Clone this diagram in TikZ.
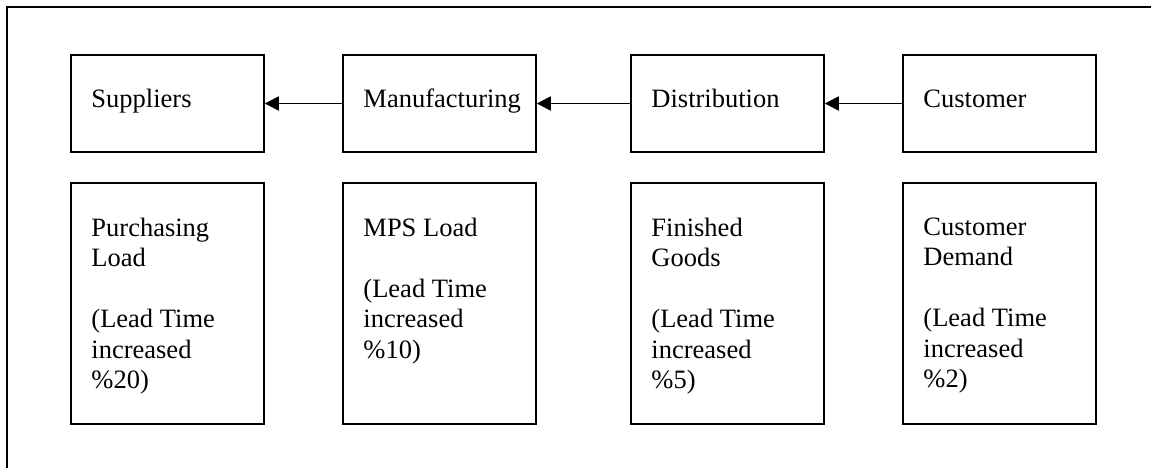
\documentclass[tikz,border=0pt]{standalone}
\usepackage{fontspec}
\setmainfont{Liberation Serif}
\usetikzlibrary{arrows.meta,calc}
\begin{document}
\begin{tikzpicture}[x=1pt,y=-1pt,
  box/.style={draw,line width=1.5pt,minimum width=193pt,inner sep=0pt},
  topbox/.style={box,minimum height=97pt},
  lowbox/.style={box,minimum height=241pt},
  lbl/.style={anchor=base west,inner sep=0pt,font=\fontsize{26.5}{30.5}\selectfont,align=left},
  flow/.style={line width=1.5pt,-{Triangle[length=14pt,width=14pt]}}]
\useasboundingbox (0,0) rectangle (1151,468);
\coordinate (fbl) at (7,468);
\coordinate (ftl) at (7,7);
\coordinate (ftr) at (1151,7);
\draw[line width=1.5pt] (fbl) -- (ftl) -- (ftr);
% top row
\node[topbox] (sup) at (167.5,103.5) {};
\node[topbox] (man) at (439.5,103.5) {};
\node[topbox] (dis) at (727.5,103.5) {};
\node[topbox] (cus) at (999.5,103.5) {};
\node[lbl] (tsup) at ($(sup.west)+(21,4)$) {Suppliers};
\node[lbl] (tman) at ($(man.west)+(21,4)$) {Manufacturing};
\node[lbl] (tdis) at ($(dis.west)+(21,4)$) {Distribution};
\node[lbl] (tcus) at ($(cus.west)+(21,4)$) {Customer};
\draw[flow] (man.west) -- (sup.east);
\draw[flow] (dis.west) -- (man.east);
\draw[flow] (cus.west) -- (dis.east);
% bottom row
\node[lowbox] (pl) at (167.5,303.5) {};
\node[lowbox] (ml) at (439.5,303.5) {};
\node[lowbox] (fg) at (727.5,303.5) {};
\node[lowbox] (cd) at (999.5,303.5) {};
\node[lbl,anchor=north west] (tpl) at ($(pl.north west)+(21,35.5)$) {Purchasing\\Load\\[30.5pt](Lead Time\\increased\\\%20)};
\node[lbl,anchor=north west] (tml) at ($(ml.north west)+(21,35.5)$) {MPS Load\\[30.5pt](Lead Time\\increased\\\%10)};
\node[lbl,anchor=north west] (tfg) at ($(fg.north west)+(21,35.5)$) {Finished\\Goods\\[30.5pt](Lead Time\\increased\\\%5)};
\node[lbl,anchor=north west] (tcd) at ($(cd.north west)+(21,35.5)$) {Customer\\Demand\\[30.5pt](Lead Time\\increased\\\%2)};
\end{tikzpicture}
\end{document}
